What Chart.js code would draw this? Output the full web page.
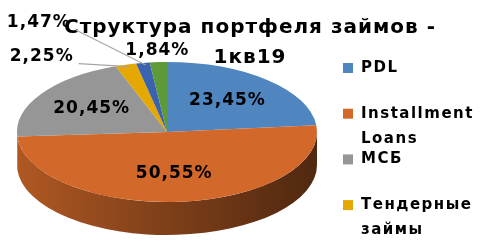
<!DOCTYPE html>
<html lang="ru">
<head>
<meta charset="utf-8">
<script src="https://cdn.jsdelivr.net/npm/chart.js@4/dist/chart.umd.min.js"></script>
<style>
  html, body { margin: 0; padding: 0; background: #fff; }
</style>
</head>
<body>
<canvas id="chart" width="500" height="250"></canvas>
<script>
// Структура портфеля займов - 1кв19
const titleLines = ['Структура портфеля займов -', '1кв19'];
const categories = ['PDL', 'Installment Loans', 'МСБ', 'Тендерные займы', 'Прочие займы', 'Другое'];
const shares = [23.45, 50.55, 20.45, 2.25, 1.47, 1.84];
const sliceColors = ['#4F86C0', '#D2692A', '#969696', '#E5A800', '#3A62AE', '#5E9A3A'];

// Геометрия "объёмного" круга на картинке
const PIE = { cx: 167, cy: 132, rx: 150, ry: 70, depth: 33 };
const FONT = '"DejaVu Sans", sans-serif';
// Выноски для маленьких долей (сдвиг подписи от края сектора)
const calloutOffsets = [null, null, null, [-84, -8], [-104, -40], [-1, -12]];

function shade(hex, k) {
    const n = parseInt(hex.slice(1), 16);
    const r = Math.round(((n >> 16) & 255) * k);
    const g = Math.round(((n >> 8) & 255) * k);
    const b = Math.round((n & 255) * k);
    return `rgb(${r},${g},${b})`;
}

function fmt(v) {
    return v.toFixed(2).replace('.', ',') + '%';
}

// из координат Chart.js в координаты наклонённого эллипса
function project(meta, px, py) {
    const a = meta.data[0];
    return {
        x: PIE.cx + (px - a.x) * PIE.rx / a.outerRadius,
        y: PIE.cy + (py - a.y) * PIE.ry / a.outerRadius
    };
}

const pie3d = {
    id: 'pie3d',
    beforeDatasetsDraw(chart) {
        const ctx = chart.ctx;
        const meta = chart.getDatasetMeta(0);
        const a0 = meta.data[0];
        const cx = a0.x, cy = a0.y, R = a0.outerRadius;

        // заголовок в две строки
        ctx.save();
        ctx.fillStyle = '#000';
        ctx.textAlign = 'center';
        ctx.textBaseline = 'middle';
        ctx.font = 'bold 20px ' + FONT;
        ctx.letterSpacing = '1px';
        titleLines.forEach((t, i) => ctx.fillText(t, 250, 28 + i * 30));
        ctx.restore();

        ctx.save();
        ctx.translate(PIE.cx, PIE.cy);
        ctx.scale(PIE.rx / R, PIE.ry / R);
        ctx.translate(-cx, -cy);
        const d = PIE.depth * R / PIE.ry;
        // боковая стенка видна только у передней половины
        meta.data.forEach((arc, i) => {
            const a1 = Math.max(arc.startAngle, 0);
            const a2 = Math.min(arc.endAngle, Math.PI);
            if (a1 >= a2) return;
            const grad = ctx.createLinearGradient(cx - R, 0, cx + R, 0);
            grad.addColorStop(0, shade(sliceColors[i], 0.84));
            grad.addColorStop(0.5, shade(sliceColors[i], 0.6));
            grad.addColorStop(1, shade(sliceColors[i], 0.38));
            ctx.beginPath();
            ctx.arc(cx, cy, R, a1, a2);
            ctx.arc(cx, cy + d, R, a2, a1, true);
            ctx.closePath();
            ctx.fillStyle = grad;
            ctx.fill();
        });
    },
    afterDatasetsDraw(chart) {
        chart.ctx.restore();
    },
    afterDraw(chart) {
        const ctx = chart.ctx;
        const meta = chart.getDatasetMeta(0);
        ctx.save();
        ctx.fillStyle = '#000';
        ctx.textAlign = 'center';
        ctx.textBaseline = 'middle';
        ctx.font = 'bold 17px ' + FONT;
        ctx.letterSpacing = '1px';

        meta.data.forEach((arc, i) => {
            const mid = (arc.startAngle + arc.endAngle) / 2;
            const text = fmt(shares[i]);
            const off = calloutOffsets[i];
            if (!off) {
                const f = 0.6;
                const p = project(meta, arc.x + Math.cos(mid) * arc.outerRadius * f,
                                        arc.y + Math.sin(mid) * arc.outerRadius * f);
                ctx.fillText(text, p.x, p.y);
                return;
            }
            const edge = project(meta, arc.x + Math.cos(mid) * arc.outerRadius,
                                       arc.y + Math.sin(mid) * arc.outerRadius);
            const lx = edge.x + off[0], ly = edge.y + off[1];
            if (Math.abs(off[0]) > 20) {
                const w = ctx.measureText(text).width;
                ctx.save();
                ctx.strokeStyle = '#A6A6A6';
                ctx.lineWidth = 1.2;
                ctx.beginPath();
                ctx.moveTo(lx + w / 2 + 5, ly + 7);
                ctx.lineTo(edge.x + 3, edge.y + 2);
                ctx.stroke();
                ctx.restore();
            }
            ctx.fillText(text, lx, ly);
        });

        // легенда справа, длинные подписи переносятся
        ctx.textAlign = 'left';
        ctx.font = 'bold 15px ' + FONT;
        ctx.letterSpacing = '1.5px';
        categories.forEach((name, i) => {
            const y = 68 + i * 45.7;
            if (y > chart.height) return; // нижние пункты не помещаются
            ctx.fillStyle = sliceColors[i];
            ctx.fillRect(343, y - 5, 10, 10);
            ctx.fillStyle = '#000';
            const words = name.split(' ');
            let line = '', ly = y;
            words.forEach(wd => {
                const test = line ? line + ' ' + wd : wd;
                if (line && ctx.measureText(test).width > 130) {
                    ctx.fillText(line, 361, ly);
                    line = wd;
                    ly += 25;
                } else {
                    line = test;
                }
            });
            ctx.fillText(line, 361, ly);
        });
        ctx.restore();
    }
};

new Chart(document.getElementById('chart'), {
    type: 'pie',
    data: {
        labels: categories,
        datasets: [{
            data: shares,
            backgroundColor: sliceColors,
            borderWidth: 0,
            clip: false
        }]
    },
    options: {
        responsive: false,
        animation: false,
        events: [],
        plugins: {
            legend: { display: false },
            tooltip: { enabled: false },
            title: { display: false }
        }
    },
    plugins: [pie3d]
});
</script>
</body>
</html>
